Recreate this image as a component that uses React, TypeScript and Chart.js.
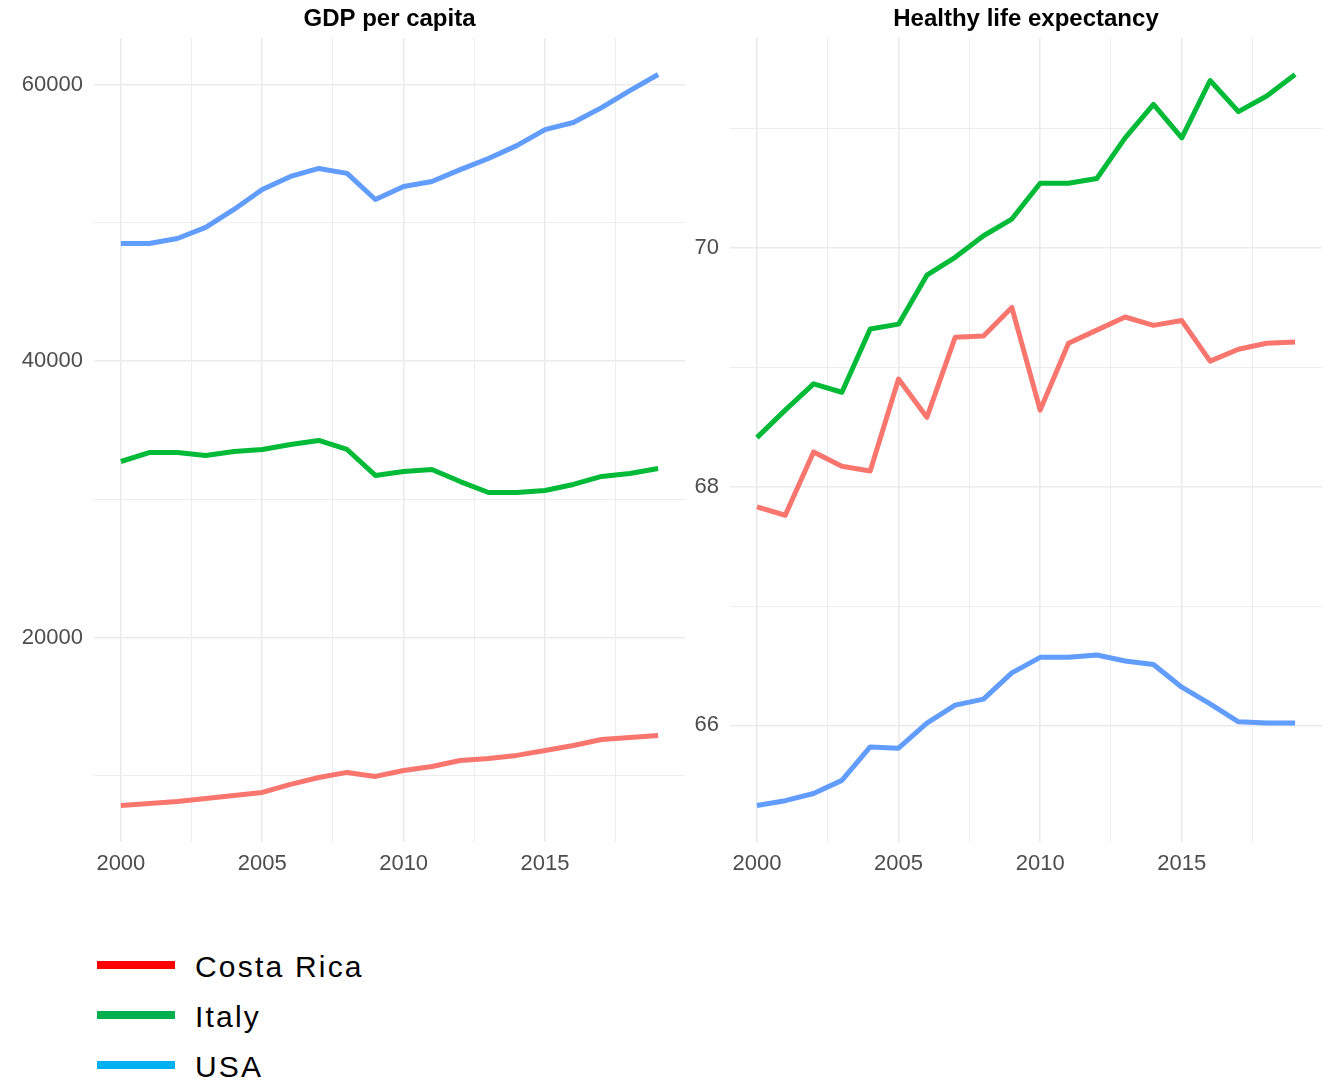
import React, { useEffect, useRef } from "react";
import { Chart, registerables } from "chart.js";

Chart.register(...registerables);

const years = [2000, 2001, 2002, 2003, 2004, 2005, 2006, 2007, 2008, 2009, 2010, 2011, 2012, 2013, 2014, 2015, 2016, 2017, 2018, 2019];

const countries = ["Costa Rica", "Italy", "USA"];
const lineColors = ["#F8766D", "#00BA38", "#619CFF"];
const legendColors = ["#FF0000", "#00B050", "#00B0F0"];

const gdpCostaRica = [7850, 7990, 8140, 8350, 8570, 8790, 9370, 9870, 10240, 9950, 10380, 10670, 11100, 11250, 11470, 11830, 12190, 12620, 12770, 12910];
const gdpItaly = [32730, 33380, 33380, 33170, 33450, 33600, 33960, 34250, 33600, 31720, 32010, 32150, 31280, 30490, 30490, 30630, 31070, 31650, 31860, 32220];
const gdpUSA = [48500, 48500, 48860, 49660, 50960, 52410, 53350, 53930, 53570, 51680, 52620, 52980, 53840, 54650, 55580, 56740, 57250, 58330, 59560, 60720];

const hleCostaRica = [67.83, 67.76, 68.29, 68.17, 68.13, 68.9, 68.58, 69.25, 69.26, 69.5, 68.64, 69.2, 69.31, 69.42, 69.35, 69.39, 69.05, 69.15, 69.2, 69.21];
const hleItaly = [68.41, 68.64, 68.86, 68.79, 69.32, 69.36, 69.77, 69.92, 70.1, 70.24, 70.54, 70.54, 70.58, 70.92, 71.2, 70.92, 71.4, 71.14, 71.27, 71.45];
const hleUSA = [65.33, 65.37, 65.43, 65.54, 65.82, 65.81, 66.02, 66.17, 66.22, 66.44, 66.57, 66.57, 66.59, 66.54, 66.51, 66.32, 66.18, 66.03, 66.02, 66.02];

const xMajorTicks = [2000, 2005, 2010, 2015];
const xMinorTicks = [2002.5, 2007.5, 2012.5, 2017.5];
const gdpMajorTicks = [20000, 40000, 60000];
const gdpMinorTicks = [10000, 30000, 50000];
const hleMajorTicks = [66, 68, 70];
const hleMinorTicks = [67, 69, 71];

const FONT = "'Liberation Sans', Arial, sans-serif";

function expandRange(values: number[]) {
  const mn = Math.min(...values);
  const mx = Math.max(...values);
  const pad = (mx - mn) * 0.05;
  return [mn - pad, mx + pad];
}

type PanelProps = {
  title: string;
  series: number[][];
  majorY: number[];
  minorY: number[];
  yAxisWidth: number;
  width: number;
  height: number;
  padRight: number;
};

function Panel({ title, series, majorY, minorY, yAxisWidth, width, height, padRight }: PanelProps) {
  const ref = useRef<HTMLCanvasElement | null>(null);
  useEffect(() => {
    if (!ref.current) return;
    const [xmin, xmax] = expandRange(years);
    const [ymin, ymax] = expandRange(series.flat());
    const xTicks = [...xMajorTicks, ...xMinorTicks].sort((a, b) => a - b);
    const yTicks = [...majorY, ...minorY].sort((a, b) => a - b);
    const titlePlugin = {
      id: "panelTitle",
      afterDraw(chart: any) {
        const { ctx, chartArea } = chart;
        ctx.save();
        ctx.font = `bold 24px ${FONT}`;
        ctx.fillStyle = "#000000";
        ctx.textAlign = "center";
        ctx.textBaseline = "middle";
        ctx.fillText(title, (chartArea.left + chartArea.right) / 2, 19);
        ctx.restore();
      },
    };
    const chart = new Chart(ref.current, {
      type: "line",
      data: {
        datasets: series.map((vals, i) => ({
          label: countries[i],
          data: years.map((y, j) => ({ x: y, y: vals[j] })),
          borderColor: lineColors[i],
          backgroundColor: lineColors[i],
          borderWidth: 5,
          pointRadius: 0,
          tension: 0,
          borderCapStyle: "butt",
          borderJoinStyle: "round",
          fill: false,
        })),
      },
      options: {
        animation: false,
        responsive: false,
        maintainAspectRatio: false,
        devicePixelRatio: 1,
        layout: { padding: { top: 38, right: padRight, left: 0, bottom: 0 } },
        plugins: { legend: { display: false }, tooltip: { enabled: false }, title: { display: false } },
        scales: {
          x: {
            type: "linear",
            min: xmin,
            max: xmax,
            afterBuildTicks: (scale: any) => {
              scale.ticks = xTicks.map((v) => ({ value: v }));
            },
            afterFit: (scale: any) => {
              scale.height = 58;
            },
            ticks: {
              autoSkip: false,
              maxRotation: 0,
              padding: 9,
              color: "#4D4D4D",
              font: { family: FONT, size: 22 },
              callback: (v: any) => (xMajorTicks.includes(Number(v)) ? String(v) : ""),
            },
            grid: {
              drawTicks: false,
              color: "#EBEBEB",
              lineWidth: (ctx: any) => (ctx.tick && xMajorTicks.includes(ctx.tick.value) ? 1.6 : 0.9),
            },
            border: { display: false },
          },
          y: {
            type: "linear",
            min: ymin,
            max: ymax,
            afterBuildTicks: (scale: any) => {
              scale.ticks = yTicks.map((v) => ({ value: v }));
            },
            afterFit: (scale: any) => {
              scale.width = yAxisWidth;
            },
            ticks: {
              autoSkip: false,
              padding: 11,
              color: "#4D4D4D",
              font: { family: FONT, size: 22 },
              callback: (v: any) => (majorY.includes(Number(v)) ? String(v) : ""),
            },
            grid: {
              drawTicks: false,
              color: "#EBEBEB",
              lineWidth: (ctx: any) => (ctx.tick && majorY.includes(ctx.tick.value) ? 1.6 : 0.9),
            },
            border: { display: false },
          },
        },
      },
      plugins: [titlePlugin],
    } as any);
    return () => chart.destroy();
  }, []);
  return <canvas ref={ref} width={width} height={height} style={{ width, height, display: "block" }} />;
}

export default function App() {
  return (
    <div style={{ position: "absolute", left: 0, top: 0, width: 1325, height: 1078, background: "#ffffff", overflow: "hidden" }}>
      <div style={{ position: "absolute", left: 0, top: 0 }}>
        <Panel
          title="GDP per capita"
          series={[gdpCostaRica, gdpItaly, gdpUSA]}
          majorY={gdpMajorTicks}
          minorY={gdpMinorTicks}
          yAxisWidth={94}
          width={690}
          height={900}
          padRight={5}
        />
      </div>
      <div style={{ position: "absolute", left: 690, top: 0 }}>
        <Panel
          title="Healthy life expectancy"
          series={[hleCostaRica, hleItaly, hleUSA]}
          majorY={hleMajorTicks}
          minorY={hleMinorTicks}
          yAxisWidth={40}
          width={635}
          height={900}
          padRight={3}
        />
      </div>
      {countries.map((name, i) => (
        <div
          key={name}
          style={{ position: "absolute", left: 97, top: 940 + i * 50, height: 50, display: "flex", alignItems: "center" }}
        >
          <div style={{ width: 78, height: 8, background: legendColors[i] }} />
          <div
            style={{
              marginLeft: 20,
              position: "relative",
              top: 2,
              fontFamily: FONT,
              fontSize: 30,
              letterSpacing: "2.2px",
              color: "#000000",
              lineHeight: 1,
              whiteSpace: "nowrap",
            }}
          >
            {name}
          </div>
        </div>
      ))}
    </div>
  );
}
